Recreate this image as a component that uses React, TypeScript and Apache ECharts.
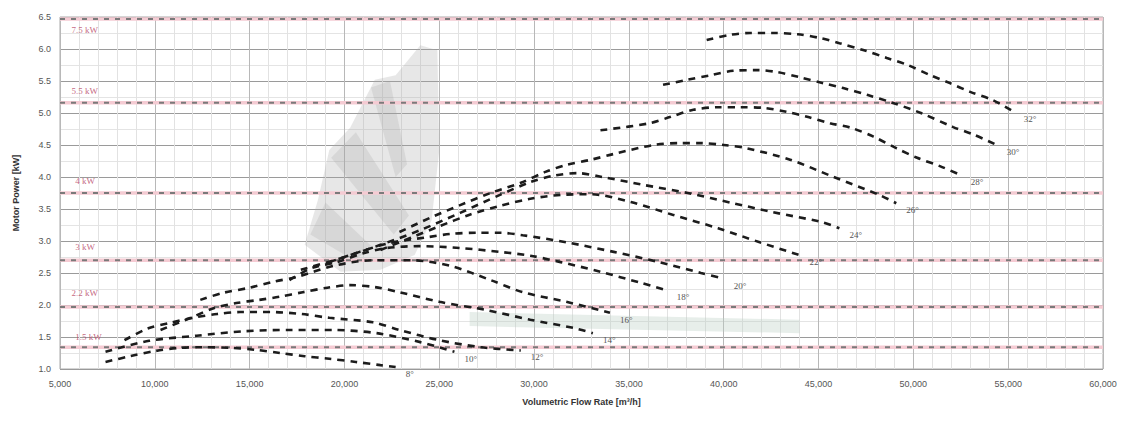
import React, { useEffect, useRef } from "react";
import * as echarts from "echarts";

// Blade angle labels (one per curve, bottom to top)
const angleLabels = ["8°", "10°", "12°", "14°", "16°", "18°", "20°", "22°", "24°", "26°", "28°", "30°", "32°"];

// Motor power curves [flow m³/h, power kW]
const curve08 = [[7400, 1.11], [8700, 1.2], [10000, 1.28], [11300, 1.33], [12600, 1.34], [14000, 1.33], [15300, 1.3], [16600, 1.25], [17900, 1.2], [19200, 1.16], [20600, 1.11], [21900, 1.06], [22700, 1.03]];
const curve10 = [[7400, 1.27], [9700, 1.44], [12200, 1.52], [14700, 1.59], [17100, 1.61], [19400, 1.61], [21700, 1.56], [24000, 1.42], [25800, 1.27]];
const curve12 = [[8400, 1.45], [9600, 1.63], [10800, 1.72], [12000, 1.8], [13300, 1.86], [14500, 1.89], [16100, 1.89], [17700, 1.86], [19200, 1.8], [21500, 1.73], [22900, 1.61], [25000, 1.45], [27200, 1.34], [29300, 1.29]];
const curve14 = [[10300, 1.61], [11900, 1.8], [13100, 1.95], [14300, 2.03], [15500, 2.08], [16600, 2.13], [17800, 2.2], [19100, 2.27], [20300, 2.31], [21600, 2.28], [22900, 2.2], [25000, 2.05], [27500, 1.92], [29800, 1.77], [32100, 1.64], [33100, 1.56]];
const curve16 = [[12400, 2.08], [13600, 2.19], [15000, 2.27], [16200, 2.36], [17500, 2.44], [19400, 2.61], [21500, 2.7], [23500, 2.7], [25600, 2.61], [27700, 2.39], [29400, 2.2], [31700, 2.05], [34000, 1.88]];
const curve18 = [[17100, 2.39], [18300, 2.58], [19600, 2.67], [21000, 2.81], [22200, 2.89], [24000, 2.92], [26100, 2.89], [28200, 2.83], [29800, 2.77], [31400, 2.67], [33500, 2.52], [35700, 2.34], [37000, 2.23]];
const curve20 = [[19200, 2.67], [20800, 2.83], [22400, 2.97], [24400, 3.06], [25600, 3.11], [27000, 3.13], [28200, 3.13], [29400, 3.09], [31700, 2.98], [34200, 2.83], [36600, 2.67], [38800, 2.5], [40000, 2.41]];
const curve22 = [[21900, 2.86], [23500, 3.05], [25000, 3.23], [26600, 3.41], [28200, 3.55], [29800, 3.66], [31400, 3.72], [33000, 3.73], [35100, 3.61], [37300, 3.41], [39700, 3.2], [41900, 2.98], [44000, 2.78]];
const curve24 = [[17700, 2.55], [19800, 2.73], [21900, 2.94], [24000, 3.17], [26100, 3.44], [28200, 3.72], [29800, 3.92], [31000, 4.02], [32300, 4.06], [33600, 4.0], [35700, 3.88], [38100, 3.75], [40500, 3.59], [42600, 3.45], [45100, 3.3], [46100, 3.2]];
const curve26 = [[22900, 3.14], [24500, 3.36], [26100, 3.56], [27700, 3.75], [29300, 3.91], [30600, 4.08], [31700, 4.19], [33000, 4.27], [34200, 4.36], [36300, 4.5], [37700, 4.53], [38800, 4.53], [40000, 4.5], [41200, 4.45], [43500, 4.27], [45800, 4.0], [48200, 3.72], [49100, 3.59]];
const curve28 = [[33500, 4.73], [36100, 4.84], [37200, 4.94], [38400, 5.05], [39700, 5.09], [40900, 5.09], [42100, 5.08], [43300, 5.02], [44400, 4.94], [45600, 4.84], [46700, 4.77], [47900, 4.63], [49100, 4.45], [50200, 4.3], [51400, 4.17], [52500, 4.03]];
const curve30 = [[36800, 5.44], [38100, 5.52], [39300, 5.59], [40500, 5.66], [41800, 5.67], [42800, 5.64], [44000, 5.56], [45200, 5.47], [46300, 5.39], [47600, 5.28], [48800, 5.17], [50400, 5.0], [52100, 4.78], [53200, 4.66], [54400, 4.5]];
const curve32 = [[39100, 6.14], [40300, 6.22], [41400, 6.25], [42600, 6.25], [43900, 6.23], [45100, 6.17], [46100, 6.09], [47400, 5.98], [48600, 5.86], [49700, 5.75], [50900, 5.59], [51900, 5.47], [53000, 5.33], [54200, 5.2], [55300, 5.02]];
const curves = [curve08, curve10, curve12, curve14, curve16, curve18, curve20, curve22, curve24, curve26, curve28, curve30, curve32];

// Motor power limits
const motorLabels = ["7.5 kW", "5.5 kW", "4 kW", "3 kW", "2.2 kW", "1.5 kW"];
const motorLimits = [6.47, 5.16, 3.75, 2.7, 1.97, 1.34];
const motorLabelAnchors = [[5600, 6.3], [5600, 5.34], [5800, 3.94], [5800, 2.91], [5600, 2.19], [5800, 1.5]];

// Shaded background regions (flow, power)
const fanOuter = [[17900, 2.94], [18600, 3.64], [19200, 4.42], [20300, 4.77], [21600, 5.52], [22700, 5.59], [24000, 6.06], [24900, 5.98], [25000, 4.42], [24600, 3.33], [23700, 2.78], [21900, 2.55], [19800, 2.52]];
const fanStreakA = [[19300, 4.3], [20600, 4.7], [23400, 3.4], [22600, 3.1]];
const fanStreakB = [[21400, 5.4], [22400, 5.5], [23300, 4.2], [22700, 4.0]];
const fanStreakC = [[18200, 3.1], [19000, 3.6], [21500, 2.9], [20500, 2.7]];
const bandRegion = [[26600, 1.89], [44000, 1.77], [44000, 1.56], [26600, 1.67]];

const xMin = 5000;
const xMax = 60000;
const xStep = 5000;
const yMin = 1.0;
const yMax = 6.5;
const yStep = 0.5;

export default function App() {
  const ref = useRef<HTMLDivElement | null>(null);

  useEffect(() => {
    if (!ref.current) return;
    const chart = echarts.init(ref.current, null, { renderer: "svg" });

    const regions = [
      { pts: fanOuter, color: "rgba(170,170,170,0.28)" },
      { pts: fanStreakA, color: "rgba(160,160,160,0.22)" },
      { pts: fanStreakB, color: "rgba(160,160,160,0.22)" },
      { pts: fanStreakC, color: "rgba(160,160,160,0.22)" },
      { pts: bandRegion, color: "rgba(185,205,195,0.35)" },
    ];

    const series: any[] = [];

    series.push({
      type: "custom",
      silent: true,
      z: 1,
      data: regions.map((_, i) => i),
      renderItem: (params: any, api: any) => {
        const r = regions[api.value(0)];
        return {
          type: "polygon",
          shape: { points: r.pts.map((p) => api.coord(p)) },
          style: { fill: r.color },
        };
      },
      encode: { x: -1, y: -1 },
    });

    motorLimits.forEach((v) => {
      series.push({
        type: "line",
        silent: true,
        symbol: "none",
        z: 2,
        data: [[xMin, v], [xMax, v]],
        lineStyle: { color: "#f5cbd3", width: 3.5, type: "solid" },
      });
      series.push({
        type: "line",
        silent: true,
        symbol: "none",
        z: 3,
        data: [[xMin, v], [xMax, v]],
        lineStyle: { color: "#7a7a7a", width: 2, type: [5, 6] },
      });
    });

    series.push({
      type: "scatter",
      silent: true,
      symbolSize: 0,
      z: 4,
      data: motorLabelAnchors.map((p, i) => [p[0], p[1], motorLabels[i]]),
      label: {
        show: true,
        position: "right",
        distance: 0,
        formatter: (p: any) => p.value[2],
        color: "#b5405e",
        fontSize: 9,
        fontFamily: "Liberation Serif",
      },
    });

    curves.forEach((c, i) => {
      series.push({
        type: "line",
        silent: true,
        symbol: "none",
        smooth: 0.3,
        z: 5,
        data: c,
        lineStyle: { color: "#1c1c1c", width: 2.6, type: [7, 6] },
        endLabel: {
          show: true,
          formatter: angleLabels[i],
          offset: [2, 7],
          color: "#555555",
          fontSize: 9,
          fontFamily: "Liberation Serif",
        },
      });
    });

    chart.setOption({
      animation: false,
      grid: {
        left: 60,
        right: 29,
        top: 17,
        bottom: 54,
        show: true,
        borderColor: "#aaa",
        borderWidth: 1,
      },
      xAxis: {
        type: "value",
        min: xMin,
        max: xMax,
        interval: xStep,
        name: "Volumetric Flow Rate [m³/h]",
        nameLocation: "middle",
        nameGap: 28,
        nameTextStyle: { fontSize: 9, fontWeight: "bold", color: "#333", fontFamily: "Liberation Sans" },
        axisLine: { show: false },
        axisTick: { show: false },
        axisLabel: {
          fontSize: 9,
          color: "#555",
          margin: 10,
          fontFamily: "Liberation Sans",
          formatter: (v: number) => v.toLocaleString("en-US"),
        },
        splitLine: { show: true, lineStyle: { color: "#b8b8b8", width: 1 } },
        minorSplitLine: { show: true, lineStyle: { color: "#e2e2e2", width: 1 } },
        minorTick: { show: false, splitNumber: 5 },
      },
      yAxis: {
        type: "value",
        min: yMin,
        max: yMax,
        interval: yStep,
        name: "Motor Power [kW]",
        nameLocation: "middle",
        nameGap: 40,
        nameTextStyle: { fontSize: 9, fontWeight: "bold", color: "#333", fontFamily: "Liberation Sans" },
        axisLine: { show: false },
        axisTick: { show: false },
        axisLabel: {
          fontSize: 9,
          color: "#555",
          margin: 9,
          fontFamily: "Liberation Sans",
          formatter: (v: number) => v.toFixed(1),
        },
        splitLine: { show: true, lineStyle: { color: "#9a9a9a", width: 1 } },
        minorSplitLine: { show: true, lineStyle: { color: "#e4e4e4", width: 1 } },
        minorTick: { show: false, splitNumber: 2 },
      },
      series,
    });

    return () => chart.dispose();
  }, []);

  return (
    <div
      ref={ref}
      style={{ position: "fixed", left: 0, top: 0, width: 1132, height: 423, background: "#fff" }}
    />
  );
}
